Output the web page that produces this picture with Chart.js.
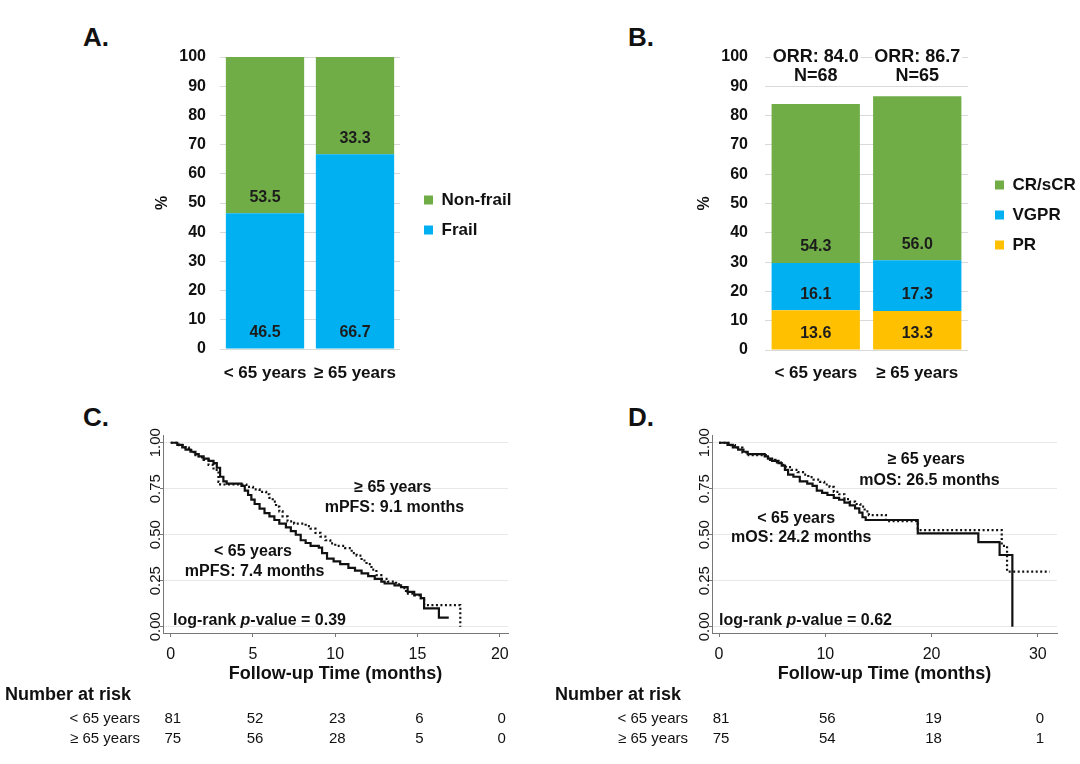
<!DOCTYPE html>
<html><head><meta charset="utf-8">
<script src="https://cdn.jsdelivr.net/npm/chart.js@4.4.1/dist/chart.umd.min.js"></script>
<style>
html,body{margin:0;padding:0;background:#fff;}
body{width:1080px;height:764px;position:relative;overflow:hidden;font-family:"Liberation Sans",Arial,Helvetica,sans-serif;}
canvas{position:absolute;}
.lab{position:absolute;font-weight:bold;font-size:26px;color:#111;line-height:1;}
</style></head><body>
<div class="lab" style="left:83px;top:24px">A.</div>
<div class="lab" style="left:628px;top:24px">B.</div>
<div class="lab" style="left:83px;top:404px">C.</div>
<div class="lab" style="left:628px;top:404px">D.</div>
<canvas id="cA" width="560" height="390" style="left:0;top:0;width:560px;height:390px"></canvas>
<canvas id="cB" width="520" height="390" style="left:560px;top:0;width:520px;height:390px"></canvas>
<canvas id="cC" width="560" height="374" style="left:0;top:390px;width:560px;height:374px"></canvas>
<canvas id="cD" width="540" height="374" style="left:540px;top:390px;width:540px;height:374px"></canvas>
<script>
// ---------- data ----------
const ageGroups = ['< 65 years', '\u2265 65 years'];
const barTicks = [0,10,20,30,40,50,60,70,80,90,100];
// Panel A
const frailPct = [46.5, 66.7];
const nonFrailPct = [53.5, 33.3];
// Panel B
const prPct = [13.6, 13.3];
const vgprPct = [16.1, 17.3];
const crPct = [54.3, 56.0];
const orrPct = [84.0, 86.7];
const respN = [68, 65];
// Panel C (PFS)
const pfsYoungT = [0,0.4,0.7,0.9,1.2,1.5,1.7,2.0,2.3,2.6,2.8,3.0,3.2,3.4,4.3,4.5,4.7,4.9,5.1,5.4,5.7,6.0,6.3,6.6,7.0,7.3,7.6,7.9,8.2,8.5,9.0,9.2,9.5,9.9,10.3,10.8,11.2,11.6,12.0,12.4,12.8,13.0,13.6,14.0,14.4,14.8,15.2,15.4,16.3,16.9];
const pfsYoungS = [1,0.988,0.975,0.963,0.951,0.938,0.926,0.914,0.901,0.889,0.864,0.815,0.79,0.778,0.765,0.74,0.716,0.691,0.667,0.642,0.617,0.6,0.58,0.56,0.54,0.52,0.5,0.47,0.455,0.44,0.43,0.4,0.37,0.355,0.34,0.32,0.305,0.29,0.275,0.26,0.245,0.235,0.225,0.215,0.19,0.175,0.155,0.1,0.05,0.05];
const pfsOldT = [0,0.5,0.9,1.1,1.4,1.7,2.0,2.3,2.6,2.9,3.0,4.6,5.0,5.4,5.8,6.0,6.2,6.4,6.6,6.8,7.1,7.5,8.2,8.5,8.8,9.1,9.4,9.7,10.0,10.6,11.0,11.3,11.6,11.9,12.2,12.5,12.8,13.2,13.7,14.0,14.3,14.8,15.2,15.4,17.6,17.6];
const pfsOldS = [1,0.987,0.973,0.96,0.933,0.92,0.907,0.88,0.853,0.787,0.773,0.76,0.747,0.733,0.72,0.70,0.68,0.653,0.627,0.60,0.573,0.56,0.547,0.533,0.51,0.49,0.47,0.453,0.44,0.427,0.40,0.387,0.36,0.34,0.31,0.28,0.26,0.245,0.23,0.21,0.18,0.17,0.155,0.118,0.118,0];
const pfsTicks = [0,5,10,15,20];
const pfsRiskYoung = [81,52,23,6,0];
const pfsRiskOld = [75,56,28,5,0];
// Panel D (OS)
const osYoungT = [0,0.8,1.3,1.8,2.3,2.7,4.3,4.6,5.0,5.6,5.9,6.2,6.5,7.0,7.6,8.3,8.8,9.2,9.7,10.2,10.8,11.3,11.8,12.3,12.8,13.2,13.5,13.8,18.7,24.4,26.4,27.6];
const osYoungS = [1,0.988,0.975,0.963,0.951,0.938,0.926,0.914,0.901,0.889,0.876,0.852,0.827,0.815,0.79,0.778,0.765,0.74,0.728,0.716,0.70,0.69,0.675,0.66,0.643,0.62,0.595,0.58,0.507,0.46,0.39,0];
const osOldT = [0,0.9,1.5,2.2,2.8,4.4,4.8,5.3,5.8,6.3,6.8,7.4,7.9,8.4,8.9,9.5,9.9,10.4,10.8,11.3,11.8,12.3,12.8,13.3,13.7,14.1,15.7,18.7,26.6,27.1,31.1];
const osOldS = [1,0.987,0.973,0.947,0.933,0.92,0.907,0.893,0.88,0.867,0.853,0.84,0.827,0.813,0.80,0.787,0.773,0.76,0.733,0.72,0.693,0.68,0.667,0.653,0.627,0.607,0.574,0.525,0.44,0.30,0.30];
const osTicks = [0,10,20,30];
const osRiskYoung = [81,56,19,0];
const osRiskOld = [75,54,18,1];
const kmYTicks = [0,0.25,0.5,0.75,1];

// ---------- styling ----------
const FAM = '"Liberation Sans", Arial, Helvetica, sans-serif';
Chart.defaults.font.family = FAM;
Chart.defaults.color = '#111';
const GREEN = '#70AD47', BLUE = '#00B0F0', YELLOW = '#FFC000';

const segLabels = {
  id: 'segLabels',
  afterDatasetsDraw(chart) {
    const ctx = chart.ctx;
    ctx.save();
    ctx.font = 'bold 16px ' + FAM;
    ctx.fillStyle = '#1c1c1c';
    ctx.textAlign = 'center';
    ctx.textBaseline = 'middle';
    chart.data.datasets.forEach((ds, di) => {
      chart.getDatasetMeta(di).data.forEach((bar, i) => {
        ctx.fillText(ds.data[i].toFixed(1), bar.x, bar.base - 16);
      });
    });
    ctx.restore();
  }
};

function barOptions(o) {
  return {
    responsive: false, animation: false, devicePixelRatio: 1,
    layout: { padding: { top: 57, right: o.padRight, bottom: 0, left: 0 } },
    datasets: { bar: { categoryPercentage: 1, barPercentage: 0.87 } },
    scales: {
      x: { stacked: true, grid: { display: false }, border: { display: false },
           ticks: { padding: o.xPad, color: '#111', font: { size: 17, weight: 'bold' } },
           afterFit: s => { s.height = o.xHeight; } },
      y: { stacked: true, min: 0, max: 100,
           afterBuildTicks: s => { s.ticks = barTicks.map(v => ({ value: v })); },
           grid: { color: '#d9d9d9', drawTicks: false }, border: { display: false },
           ticks: { padding: o.tickPad, color: '#111', font: { size: 16, weight: 'bold' } },
           title: { display: true, text: '%', color: '#111', font: { size: 16, weight: 'bold' }, padding: { top: o.titlePad, bottom: 0 } },
           afterFit: s => { s.width = o.yWidth; } },
      gap: { position: 'right', display: true, grid: { display: false }, border: { display: false },
             ticks: { display: false }, afterFit: s => { s.width = o.gap; } }
    },
    plugins: {
      legend: { position: 'right', align: 'start', reverse: true, maxWidth: o.legW,
        title: { display: true, text: '', font: { size: 10 }, padding: { top: o.legShift - 12, bottom: 0 } },
        labels: { boxWidth: 9, boxHeight: 9, padding: 13, color: '#111', font: { size: 17, weight: 'bold' } } },
      tooltip: { enabled: false }
    }
  };
}

// Panel A
new Chart(document.getElementById('cA'), {
  type: 'bar',
  data: { labels: ageGroups, datasets: [
    { label: 'Frail', data: frailPct, backgroundColor: BLUE },
    { label: 'Non-frail', data: nonFrailPct, backgroundColor: GREEN }
  ] },
  options: barOptions({ padRight: 49, xHeight: 41, xPad: 6, tickPad: 14, titlePad: 153.4, yWidth: 220, gap: 11, legW: 100, legShift: 121.5 }),
  plugins: [segLabels]
});

// Panel B
const orrLabels = {
  id: 'orrLabels',
  afterDraw(chart) {
    const ctx = chart.ctx;
    const meta = chart.getDatasetMeta(0);
    ctx.save();
    ctx.font = 'bold 18px ' + FAM;
    ctx.textAlign = 'center';
    ctx.textBaseline = 'middle';
    meta.data.forEach((bar, i) => {
      const t1 = 'ORR: ' + orrPct[i].toFixed(1);
      const t2 = 'N=' + respN[i];
      const w = ctx.measureText(t1).width;
      const yTop = chart.scales.y.getPixelForValue(100);
      ctx.fillStyle = '#fff';
      ctx.fillRect(bar.x - w / 2 - 2, yTop - 10, w + 4, 20);
      ctx.fillStyle = '#111';
      ctx.fillText(t1, bar.x, yTop);
      ctx.fillText(t2, bar.x, yTop + 19);
    });
    ctx.restore();
  }
};
new Chart(document.getElementById('cB'), {
  type: 'bar',
  data: { labels: ageGroups, datasets: [
    { label: 'PR', data: prPct, backgroundColor: YELLOW },
    { label: 'VGPR', data: vgprPct, backgroundColor: BLUE },
    { label: 'CR/sCR', data: crPct, backgroundColor: GREEN }
  ] },
  options: barOptions({ padRight: 0, xHeight: 40, xPad: 5, tickPad: 17, titlePad: 135.4, yWidth: 205, gap: 14, legW: 98, legShift: 106.5 }),
  plugins: [segLabels, orrLabels]
});

// ---------- KM ----------
function kmChart(id, o) {
  const annot = {
    id: 'annot' + id,
    afterDraw(chart) {
      const ctx = chart.ctx, xs = chart.scales.x, ys = chart.scales.y;
      ctx.save();
      ctx.fillStyle = '#111';
      ctx.textBaseline = 'middle';
      ctx.textAlign = 'center';
      ctx.font = 'bold 16px ' + FAM;
      o.notes.forEach(n => ctx.fillText(n[0], xs.getPixelForValue(n[1]), ys.getPixelForValue(n[2])));
      // log-rank text
      let x = xs.getPixelForValue(o.logRank[1]);
      const y = ys.getPixelForValue(o.logRank[2]);
      ctx.textAlign = 'left';
      const parts = [['log-rank ', 'bold'], ['p', 'italic bold'], ['-value = ' + o.logRank[0], 'bold']];
      parts.forEach(p => { ctx.font = p[1] + ' 16px ' + FAM; ctx.fillText(p[0], x, y); x += ctx.measureText(p[0]).width; });
      // risk table
      ctx.font = 'bold 18px ' + FAM;
      ctx.fillText('Number at risk', o.riskLeft, 305);
      ctx.font = '15px ' + FAM;
      ctx.textAlign = 'right';
      ctx.fillText('< 65 years', o.riskLabelRight, 329);
      ctx.fillText('\u2265 65 years', o.riskLabelRight, 349);
      ctx.textAlign = 'center';
      o.riskTimes.forEach((t, i) => {
        const px = xs.getPixelForValue(t) + 2;
        ctx.fillText(String(o.riskYoung[i]), px, 329);
        ctx.fillText(String(o.riskOld[i]), px, 349);
      });
      ctx.restore();
    }
  };
  return new Chart(document.getElementById(id), {
    type: 'line',
    data: { datasets: [
      { label: '< 65 years', data: o.youngT.map((t, i) => ({ x: t, y: o.youngS[i] })), borderColor: '#111', borderWidth: 2.2, stepped: true, pointRadius: 0, fill: false },
      { label: '\u2265 65 years', data: o.oldT.map((t, i) => ({ x: t, y: o.oldS[i] })), borderColor: '#111', borderWidth: 2.2, borderDash: [2, 2.5], stepped: true, pointRadius: 0, fill: false }
    ] },
    options: {
      responsive: false, animation: false, devicePixelRatio: 1,
      layout: { padding: { top: 45, right: o.padRight, bottom: 0, left: 0 } },
      scales: {
        x: { type: 'linear', min: o.xmin, max: o.xmax,
             afterBuildTicks: s => { s.ticks = o.ticks.map(v => ({ value: v })); },
             afterFit: s => { s.height = 131; },
             grid: { drawOnChartArea: false, tickLength: 4, color: '#777', tickColor: '#777' },
             border: { display: true, color: '#777', width: 1 },
             ticks: { padding: 8, color: '#111', maxRotation: 0, font: { size: 16 } },
             title: { display: true, text: 'Follow-up Time (months)', color: '#111', font: { size: 18, weight: 'bold' }, padding: { top: 0, bottom: 79 } } },
        y: { type: 'linear', min: -0.034, max: 1.042,
             afterBuildTicks: s => { s.ticks = kmYTicks.map(v => ({ value: v })); },
             afterFit: s => { s.width = o.yWidth; },
             grid: { color: '#e8e8e8', tickLength: 3, tickColor: '#777' },
             border: { display: true, color: '#777', width: 1 },
             ticks: { callback: v => Number(v).toFixed(2), minRotation: 90, maxRotation: 90, crossAlign: 'center', padding: -10, color: '#111', font: { size: 15 } } }
      },
      plugins: { legend: { display: false }, tooltip: { enabled: false } }
    },
    plugins: [annot]
  });
}

kmChart('cC', {
  youngT: pfsYoungT, youngS: pfsYoungS, oldT: pfsOldT, oldS: pfsOldS,
  ticks: pfsTicks, xmin: -0.47, xmax: 20.5, yWidth: 163, padRight: 52,
  riskTimes: pfsTicks, riskYoung: pfsRiskYoung, riskOld: pfsRiskOld, riskLeft: 5, riskLabelRight: 140,
  notes: [['\u2265 65 years', 13.5, 0.754], ['mPFS: 9.1 months', 13.6, 0.645], ['< 65 years', 5.0, 0.406], ['mPFS: 7.4 months', 5.1, 0.297]],
  logRank: ['0.39', 0.14, 0.036]
});
kmChart('cD', {
  youngT: osYoungT, youngS: osYoungS, oldT: osOldT, oldS: osOldS,
  ticks: osTicks, xmin: -0.66, xmax: 31.8, yWidth: 172, padRight: 23,
  riskTimes: osTicks, riskYoung: osRiskYoung, riskOld: osRiskOld, riskLeft: 15, riskLabelRight: 148,
  notes: [['\u2265 65 years', 19.5, 0.906], ['mOS: 26.5 months', 19.8, 0.792], ['< 65 years', 7.26, 0.59], ['mOS: 24.2 months', 7.74, 0.482]],
  logRank: ['0.62', 0.0, 0.036]
});
</script>
</body></html>
